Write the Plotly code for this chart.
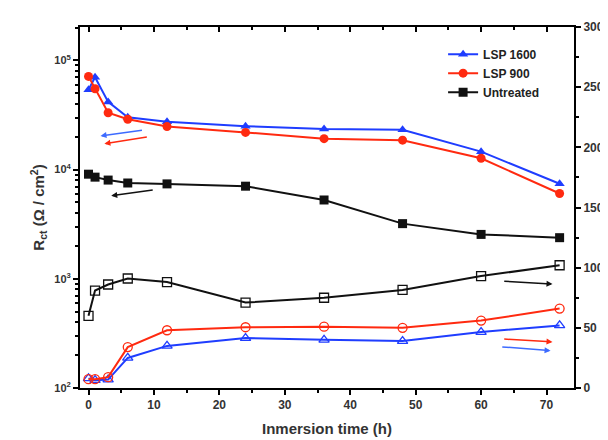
import plotly.graph_objects as go

time_h = [0, 1, 3, 6, 12, 24, 36, 48, 60, 72]

# Rct (left, log axis) - filled markers
rct_lsp1600 = [53900, 70000, 41700, 30200, 27400, 25000, 23600, 23200, 14600, 7430]
rct_lsp900 = [71400, 55000, 33200, 28900, 24800, 21900, 19200, 18600, 12700, 6040]
rct_untreated = [9080, 8530, 8020, 7540, 7400, 7050, 5270, 3200, 2550, 2380]

# right axis - open markers
right_lsp1600 = [8, 6.5, 7, 25, 35, 41.5, 40, 39, 46.5, 52]
right_lsp900 = [7.3, 7.3, 9, 34, 48, 50.5, 51, 50, 56, 66]
right_untreated = [60, 81, 86, 91, 88, 71, 75, 81.5, 93, 102]

series_names = ["LSP 1600", "LSP 900", "Untreated"]
x_tick_vals = [0, 10, 20, 30, 40, 50, 60, 70]
left_tick_vals = [100, 1000, 10000, 100000]
left_tick_text = ["10<sup>2</sup>", "10<sup>3</sup>", "10<sup>4</sup>", "10<sup>5</sup>"]
right_tick_vals = [0, 50, 100, 150, 200, 250, 300]

BLUE = "#1f3dff"
BLUE_L = "#3d6bff"
RED = "#ff2a10"
BLACK = "#111111"
FONT = "Liberation Sans"

fig = go.Figure()

styles = [
    (series_names[0], rct_lsp1600, right_lsp1600, BLUE, "triangle-up"),
    (series_names[1], rct_lsp900, right_lsp900, RED, "circle"),
    (series_names[2], rct_untreated, right_untreated, BLACK, "square"),
]

for name, left_vals, right_vals, col, sym in styles:
    fig.add_trace(go.Scatter(
        x=time_h, y=right_vals, yaxis="y2", mode="lines+markers",
        line=dict(color=col, width=2),
        marker=dict(symbol=sym + "-open", size=9, color=col, line=dict(width=1.3)),
        showlegend=False, hoverinfo="skip"))

for name, left_vals, right_vals, col, sym in styles:
    fig.add_trace(go.Scatter(
        x=time_h, y=left_vals, mode="lines+markers", name="<b>" + name + "</b>",
        line=dict(color=col, width=2),
        marker=dict(symbol=sym, size=9, color=col)))

# top axis carrier (invisible)
fig.add_trace(go.Scatter(x=[0], y=[1000], xaxis="x2", mode="markers",
                         marker=dict(opacity=0), showlegend=False, hoverinfo="skip"))

xr = [-1.3, 74.2]
tick_font = dict(family=FONT, size=12, color="#333")


def bold(labels):
    return ["<b>" + str(s) + "</b>" for s in labels]


minor_log = [m * 10 ** e for e in (2, 3, 4, 5) for m in range(2, 10)]

fig.update_layout(
    width=608, height=440,
    margin=dict(l=72, r=30, t=12, b=60),
    paper_bgcolor="white", plot_bgcolor="white",
    font=dict(family=FONT, color="#222"),
    xaxis=dict(range=xr, tickvals=x_tick_vals, ticktext=bold(x_tick_vals),
               ticks="outside", ticklen=5, tickwidth=2, tickcolor="black",
               minor=dict(tickvals=[5, 15, 25, 35, 45, 55, 65], ticks="outside",
                          ticklen=3, tickwidth=2, tickcolor="black"),
               showline=True, linecolor="black", linewidth=2, showgrid=False,
               zeroline=False, tickfont=tick_font,
               title=dict(text="<b>Inmersion time (h)</b>",
                          font=dict(family=FONT, size=15, color="#333"), standoff=12)),
    xaxis2=dict(range=xr, overlaying="x", side="top",
                tickvals=x_tick_vals,
                ticks="inside", ticklen=5, tickwidth=2, tickcolor="black",
                minor=dict(tickvals=[5, 15, 25, 35, 45, 55, 65], ticks="inside",
                           ticklen=3, tickwidth=2, tickcolor="black"),
                showticklabels=False, showline=True, linecolor="black",
                linewidth=2, showgrid=False, zeroline=False),
    yaxis=dict(type="log", range=[2, 5.306], tickvals=left_tick_vals,
               ticktext=bold(left_tick_text), ticks="outside", ticklen=5, tickwidth=2,
               tickcolor="black",
               minor=dict(tickvals=minor_log, ticks="outside", ticklen=3,
                          tickwidth=1.5, tickcolor="black"),
               showline=True, linecolor="black", linewidth=2, showgrid=False,
               zeroline=False, tickfont=dict(tick_font, size=11),
               title=dict(text="<b>R<sub>ct</sub> (Ω / cm<sup>2</sup>)</b>",
                          font=dict(family=FONT, size=15, color="#333"), standoff=6)),
    yaxis2=dict(range=[0, 300], overlaying="y", side="right",
                tickvals=right_tick_vals, ticktext=bold(right_tick_vals),
                ticks="outside", ticklen=5, tickwidth=2, tickcolor="black",
                minor=dict(tickvals=[25, 75, 125, 175, 225, 275], ticks="outside",
                           ticklen=3, tickwidth=2, tickcolor="black"),
                showline=True, linecolor="black", linewidth=2, showgrid=False,
                zeroline=False, tickfont=tick_font),
    legend=dict(x=0.735, y=0.965, xanchor="left", yanchor="top",
                bgcolor="rgba(0,0,0,0)", font=dict(family=FONT, size=12, color="#222"),
                tracegroupgap=2),
)


def px2dom(px, py):
    return (px - 72) / 506, (380 - py) / 368


arrows = [
    ((137, 117), (93, 123), BLUE_L),
    ((142, 124), (97, 131), RED),
    ((148, 178), (104, 184), BLACK),
    ((505, 271), (556, 274), BLACK),
    ((505, 330), (556, 333), RED),
    ((503, 338), (554, 342), BLUE_L),
]
for (sx, sy), (ex, ey), col in arrows:
    hx, hy = px2dom(ex, ey)
    tx, ty = px2dom(sx, sy)
    fig.add_annotation(x=hx, y=hy, ax=tx, ay=ty, xref="x domain", yref="y domain",
                       axref="x domain", ayref="y domain", showarrow=True, text="",
                       arrowhead=2, arrowsize=0.8, arrowwidth=1.5, arrowcolor=col)

fig.write_html("out.html")
